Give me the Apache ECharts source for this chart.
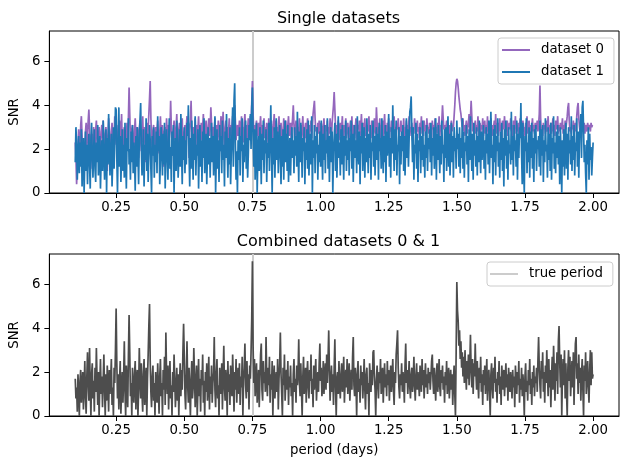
<!DOCTYPE html>
<html>
<head>
<meta charset="utf-8">
<script src="https://cdn.jsdelivr.net/npm/echarts@6/dist/echarts.min.js"></script>
<style>
  html, body { margin: 0; padding: 0; background: #fff; }
  #chart { width: 630px; height: 469px; }
</style>
</head>
<body>
<div id="chart"></div>
<script>
// period grid (days): 0.1000 .. 2.0000, step 0.0025 (one row = 0.1 day)
const periodStart = 0.1;
const periodStep = 0.0025;
const truePeriod = 0.75;
const xTicks = [0.25, 0.5, 0.75, 1.0, 1.25, 1.5, 1.75, 2.0];
const yTicks = [0, 2, 4, 6];

// SNR, dataset 0
const snr0 = [
  2.3,1.6,0.4,1.2,2.1,2.9,2.4,1.5,3.1,3.5, 2.6,1.8,2.2,0.9,1.7,2.8,3.2,2.0,2.7,3.3, 3.8,2.9,1.4,2.3,2.7,1.1,2.5,3.0,2.2,1.6, 2.9,3.3,2.6,1.9,2.4,3.0,2.1,1.3,2.8,3.1,
  2.5,3.3,2.0,1.5,2.7,3.0,2.3,1.0,2.6,3.4, 2.9,2.1,1.7,2.8,3.2,2.4,1.2,2.6,3.5,2.8, 2.2,3.1,2.5,1.4,2.9,3.3,2.0,2.7,3.6,2.3, 1.6,2.8,3.0,2.4,1.9,2.6,3.2,2.1,3.4,4.8,
  3.6,2.5,1.8,2.9,3.1,2.2,1.5,2.8,3.4,2.6, 2.0,3.0,2.7,1.6,2.9,3.3,2.4,1.9,2.8,3.5, 2.3,3.0,2.6,1.4,2.7,3.2,2.1,2.9,3.6,4.3, 5.1,3.4,2.5,2.0,2.8,3.1,1.7,2.6,3.0,2.2,
  2.9,3.3,2.4,1.8,2.7,3.5,2.6,2.0,3.1,2.5, 1.2,2.8,3.0,2.3,3.4,2.7,1.9,3.1,2.5,2.9, 4.2,3.0,2.4,1.7,2.8,3.3,2.6,2.1,3.0,3.6, 2.4,1.5,2.9,3.2,2.6,2.0,3.1,3.4,2.3,2.8,
  2.7,3.1,2.2,3.0,3.5,2.6,3.2,1.6,2.9,3.3, 4.2,2.8,2.4,3.0,1.9,2.7,3.4,2.5,3.1,2.0, 2.9,3.5,2.6,1.5,2.8,3.2,2.4,3.0,3.6,2.7, 2.1,2.9,3.3,2.5,1.8,3.0,3.4,2.6,2.9,3.9,
  3.2,2.6,3.0,1.8,2.9,3.4,2.5,3.1,2.2,2.8, 3.3,2.7,1.9,3.0,3.5,2.4,3.0,3.7,2.6,2.1, 2.9,3.3,2.5,3.0,2.0,2.8,3.4,2.6,3.1,2.3, 3.0,3.5,2.7,3.2,4.0,3.3,2.4,2.9,3.1,2.6,
  2.9,3.3,2.1,2.8,3.5,2.6,3.0,2.3,3.2,3.6, 2.7,3.1,2.4,2.9,3.4,2.5,3.0,3.5,3.2,4.1, 5.1,3.6,2.8,3.1,2.4,3.0,3.3,2.6,2.9,3.2, 2.2,3.0,3.5,2.7,2.4,3.1,2.8,3.4,2.5,3.0,
  2.6,3.2,2.9,2.3,3.4,2.7,3.0,2.5,3.3,1.9, 2.8,3.1,3.6,2.6,2.9,3.3,2.4,3.0,2.7,3.5, 2.3,2.9,3.2,2.6,1.8,2.8,3.4,2.5,3.0,3.3, 2.7,2.2,3.1,3.5,2.6,2.9,3.2,2.4,3.0,3.4,
  4.0,3.1,2.5,2.9,3.3,2.6,3.0,2.2,2.8,3.4, 2.7,3.1,2.4,3.0,3.5,2.6,2.0,2.9,3.2,2.5, 3.0,3.4,2.7,2.3,3.1,2.8,3.3,2.5,3.0,3.6, 3.9,4.2,3.4,2.8,3.0,2.5,3.2,2.7,3.3,2.9,
  2.6,3.2,2.9,2.4,3.0,3.4,2.7,2.2,3.1,2.8, 3.3,2.5,3.0,2.7,3.4,2.9,2.4,3.2,3.6,4.0, 4.6,3.8,3.0,2.6,3.1,2.8,3.3,2.4,2.9,3.2, 2.6,3.0,3.5,2.7,2.3,3.1,2.8,3.4,2.5,3.0,
  3.2,2.7,2.4,3.0,3.3,2.8,3.5,2.6,2.9,3.1, 2.5,3.0,3.4,2.7,2.2,3.1,2.9,3.3,2.6,3.0, 3.6,2.8,2.5,3.2,2.9,3.4,2.6,3.0,2.3,3.1, 2.8,3.5,2.7,3.0,2.5,3.3,2.9,3.1,2.6,3.4,
  3.0,2.7,3.9,3.2,2.6,3.0,2.8,3.4,2.5,3.1, 2.9,3.3,2.4,3.0,3.6,2.7,3.1,2.6,3.2,2.8, 3.4,2.5,3.0,2.8,3.3,2.6,3.1,2.9,3.5,2.4, 3.0,2.7,3.2,2.9,3.4,2.6,3.0,2.8,3.3,2.5,
  3.1,2.8,3.4,2.6,3.0,2.7,3.3,2.5,3.1,2.9, 3.5,2.6,3.0,2.8,3.2,2.4,3.0,2.7,3.4,2.9, 3.1,2.6,3.3,2.8,3.0,2.5,3.2,2.9,3.5,2.7, 3.0,2.6,3.3,2.8,3.1,2.5,3.4,2.9,3.0,2.7,
  3.2,2.8,3.0,2.5,3.3,2.9,3.1,2.6,3.4,2.8, 3.0,2.7,3.2,2.9,3.5,2.6,3.1,2.8,3.3,4.0, 3.4,2.9,3.1,2.6,3.0,3.3,2.7,3.2,2.9,3.1, 2.6,3.0,3.3,2.8,3.1,3.0,3.5,4.0,4.6,5.0,
  5.2,5.1,4.8,4.4,4.1,3.8,3.6,3.3,3.0,3.4, 2.8,3.1,2.6,3.0,3.3,2.7,3.0,3.2,3.6,2.9, 3.4,4.2,3.5,2.8,3.1,2.6,3.0,3.3,2.7,3.1, 2.8,3.5,2.6,3.0,3.2,2.7,3.1,2.9,3.4,2.6,
  3.0,3.3,2.7,3.1,2.8,3.5,2.6,3.0,3.2,2.7, 3.4,2.9,3.1,2.6,3.0,3.3,2.8,3.6,2.7,3.0, 3.2,2.6,3.0,3.4,2.8,3.1,2.5,3.3,2.9,3.0, 3.5,2.7,3.1,2.8,3.3,2.6,3.0,3.2,2.9,3.4,
  2.8,3.1,2.6,3.3,2.9,3.0,3.5,2.7,3.1,2.8, 3.2,2.6,3.0,3.4,2.9,3.1,2.7,3.3,2.8,3.0, 2.6,3.2,2.9,3.5,2.7,3.0,3.3,2.8,3.1,2.6, 3.0,3.4,2.8,3.1,2.7,3.2,2.9,3.0,3.3,2.8,
  3.1,3.6,4.9,3.4,2.8,3.0,2.6,3.2,2.9,3.1, 2.7,3.3,2.8,3.0,3.5,2.6,3.1,2.9,3.2,2.7, 3.0,3.4,2.8,3.1,2.6,3.3,2.9,3.0,3.5,2.7, 3.1,2.8,3.2,2.9,3.0,3.4,2.7,3.1,2.8,3.3,
  2.9,3.2,3.5,3.9,4.1,3.3,2.8,3.0,2.7,3.1, 2.9,3.3,2.6,3.0,3.2,2.8,3.5,3.9,4.1,3.4, 3.0,2.7,3.1,2.9,3.3,2.8,3.0,3.2,2.7,3.1, 3.0,2.8,3.2,2.9,3.1,3.0,2.8,3.2,3.0,3.1,
  3.1
];

// SNR, dataset 1
const snr1 = [
  1.4,3.0,2.2,0.6,1.8,2.6,0.9,2.3,1.2,2.9, 0.3,1.7,2.5,0.0,1.5,2.8,1.0,2.2,0.4,1.9, 2.7,1.3,0.2,2.4,3.2,1.6,0.7,2.0,2.9,1.1, 0.5,2.3,1.4,3.1,0.8,1.8,2.6,0.2,1.5,2.4,
  1.0,3.3,2.1,0.6,1.7,2.9,0.0,2.5,1.3,3.6, 2.2,0.8,1.9,2.7,0.3,1.5,3.0,1.1,2.4,3.9, 3.8,1.6,0.0,2.3,3.9,1.2,2.6,0.5,1.8,2.9, 1.0,2.2,0.7,3.2,1.5,0.2,2.5,1.9,3.4,1.3,
  2.0,0.6,2.8,1.4,3.1,0.9,2.3,1.7,0.1,2.6, 1.2,3.0,1.8,0.4,2.5,3.3,4.1,2.1,0.8,1.6, 2.9,0.3,2.2,1.5,3.4,1.0,2.7,0.5,1.9,3.1, 2.4,1.1,0.0,2.6,1.7,3.0,0.7,2.2,1.4,2.8,
  0.9,3.5,1.9,2.6,0.4,1.5,3.0,2.2,0.8,2.7, 1.3,3.2,0.2,2.0,2.9,1.6,0.6,2.4,3.4,1.1, 2.1,0.5,2.8,1.7,3.1,0.0,1.9,2.5,1.0,3.3, 2.3,0.7,1.6,2.9,1.2,3.6,2.0,0.4,2.6,1.5,
  3.0,0.9,2.4,1.3,3.2,2.6,4.0,1.8,0.3,2.5, 1.1,3.3,2.0,0.6,2.7,1.5,3.5,0.8,2.2,1.7, 2.9,0.2,1.9,3.1,1.2,2.4,0.5,2.8,1.6,3.4, 0.9,2.1,2.7,0.4,1.8,3.0,1.3,2.5,0.7,2.2,
  3.2,1.4,2.6,0.8,2.0,3.5,0.0,1.7,2.9,1.1, 2.4,0.5,3.1,1.9,2.6,0.9,3.3,1.5,2.2,0.3, 2.8,1.6,3.6,2.1,0.7,2.5,1.3,3.0,0.4,1.8, 2.7,3.9,1.2,4.2,5.0,2.3,0.6,1.9,0.0,2.4,
  1.5,3.0,0.8,2.6,1.9,3.4,0.5,2.2,1.4,2.9, 3.3,1.1,2.5,0.7,1.8,3.1,2.4,3.6,2.0,3.9, 4.8,2.7,1.2,2.9,0.6,2.3,3.2,0.0,1.7,2.6, 1.0,3.0,2.1,0.4,2.7,1.5,3.3,0.9,2.4,1.8,
  2.9,0.5,2.3,1.6,3.2,1.0,2.6,4.0,1.9,0.0, 2.5,1.3,3.0,0.7,2.2,3.4,1.5,2.8,0.9,2.0, 3.1,1.8,0.4,2.6,1.2,2.9,0.6,2.3,3.3,1.4, 2.7,1.0,3.1,0.5,1.9,2.5,0.8,2.2,3.0,1.6,
  2.4,0.9,3.0,1.7,2.6,1.2,3.7,2.0,0.5,2.8, 1.4,3.2,2.2,0.7,2.5,1.9,3.0,0.4,2.3,1.5, 2.9,1.1,3.3,0.8,2.1,2.7,1.3,3.5,0.0,2.4, 1.6,3.1,0.9,2.6,1.8,3.0,0.6,2.2,1.4,2.8,
  1.2,3.3,2.0,0.6,2.7,1.5,3.1,0.9,2.4,1.8, 3.4,1.1,2.6,0.5,2.2,3.0,1.4,2.8,0.0,1.9, 2.5,3.2,1.0,2.7,0.7,2.1,3.5,1.6,2.3,0.8, 2.9,1.3,3.1,2.0,0.6,2.6,1.7,3.3,1.0,2.4,
  1.5,3.0,0.8,2.5,1.9,3.3,1.1,2.7,0.5,2.2, 3.1,1.6,2.4,0.9,3.5,2.0,1.3,2.8,0.4,2.6, 1.8,3.2,1.0,2.3,3.0,0.7,2.5,1.4,3.4,2.1, 0.9,2.7,1.6,3.1,0.6,2.3,1.9,3.3,1.2,2.6,
  0.8,2.4,3.0,1.5,2.7,0.6,3.2,1.9,2.5,1.1, 3.4,2.0,0.9,2.6,1.4,3.1,0.5,2.8,1.7,2.3, 3.6,1.2,2.5,0.7,3.0,1.8,4.0,2.4,1.0,2.9, 1.5,3.3,0.8,2.2,1.9,3.0,0.4,2.6,1.3,2.8,
  1.9,3.1,1.0,2.6,0.8,2.3,3.4,1.6,2.9,1.2, 2.5,3.7,3.9,4.4,2.8,1.4,3.0,0.6,2.2,1.8, 3.2,1.1,2.7,0.5,2.4,1.9,3.0,0.9,2.6,1.5, 3.3,1.2,2.2,0.7,2.8,1.6,3.1,1.0,2.5,2.0,
  2.9,1.4,3.2,0.8,2.5,1.7,3.0,1.1,2.3,3.4, 0.6,2.7,1.5,3.1,2.0,0.9,2.6,1.3,3.3,1.8, 2.2,0.5,2.9,1.6,3.0,1.0,2.4,3.5,1.2,2.7, 0.8,2.1,3.2,1.4,2.6,0.7,3.0,1.9,2.5,1.1,
  3.3,2.0,2.7,1.2,3.0,0.9,2.5,1.6,3.4,1.1, 2.8,0.7,2.3,1.9,3.1,1.3,2.6,0.5,2.9,1.5, 3.5,2.2,1.0,2.7,0.6,3.2,1.7,2.4,1.2,3.0, 0.8,2.6,1.4,3.3,2.0,0.9,2.8,1.5,2.2,3.1,
  1.1,2.4,0.6,3.0,1.8,2.7,1.3,3.3,0.9,2.5, 3.7,1.6,2.2,0.4,2.9,1.4,3.1,0.8,2.6,1.9, 3.4,1.2,2.3,0.7,2.8,1.5,3.2,1.0,2.5,0.3, 2.9,1.7,3.3,1.1,2.4,0.6,3.0,1.8,2.2,1.3,
  3.7,1.5,2.6,0.8,3.1,1.9,2.4,1.2,3.3,0.6, 2.7,1.6,3.0,2.5,4.1,1.8,0.4,3.2,1.3,0.0, 2.6,1.9,3.4,0.9,2.3,1.4,3.0,0.7,2.8,1.6, 3.2,1.1,2.5,0.5,2.9,1.8,3.1,1.0,2.4,2.0,
  2.6,1.2,3.3,0.8,2.9,1.7,3.1,0.5,2.4,1.4, 3.4,1.9,2.2,0.7,3.0,1.5,2.7,1.0,3.2,0.6, 2.5,1.8,3.5,1.1,2.3,0.9,2.8,1.6,3.1,1.3, 2.6,0.4,3.0,1.7,0.0,2.4,1.2,2.9,0.8,2.2,
  3.2,1.1,2.7,0.6,3.0,1.8,2.4,1.3,3.5,1.0, 2.6,1.5,3.1,0.8,2.3,1.9,3.4,1.2,2.8,0.7, 2.5,3.0,3.6,1.6,3.9,4.2,2.9,1.4,2.2,0.9, 0.0,2.4,1.3,3.0,0.6,2.7,1.5,2.1,0.8,1.6,
  2.3
];

// SNR, datasets 0 & 1 combined
const snrBoth = [
  1.7,0.8,1.3,0.2,1.9,1.1,0.0,1.6,2.1,0.6, 1.4,2.0,0.3,1.2,2.5,0.9,0.1,1.8,2.9,1.5, 0.7,3.1,1.3,0.0,1.9,2.4,0.8,1.6,0.2,2.2, 1.1,3.1,1.7,0.5,2.0,0.0,1.4,2.6,1.0,1.8,
  0.4,1.6,2.8,1.2,0.0,1.9,0.7,2.3,1.4,0.2, 2.1,1.0,1.7,2.6,0.5,1.3,0.0,2.2,1.5,3.0, 4.9,2.4,0.8,1.9,0.3,1.6,2.5,0.1,1.2,2.0, 0.6,1.8,3.4,1.1,0.0,2.3,1.4,0.4,2.7,4.6,
  2.9,0.9,1.5,0.0,2.2,1.3,0.6,1.9,2.5,0.3, 1.6,2.1,0.0,1.2,3.1,1.7,0.8,2.4,1.0,0.2, 1.9,2.6,0.5,1.4,2.2,0.0,1.7,2.8,4.1,5.1, 2.5,1.1,0.4,1.8,2.3,0.7,1.5,0.0,2.0,1.2,
  0.6,2.4,1.3,0.1,1.8,2.6,0.9,1.5,0.0,2.1, 1.2,2.7,0.5,3.8,1.9,1.0,2.3,0.3,1.6,2.5, 0.8,1.4,0.0,2.0,1.1,2.8,1.7,0.4,1.3,2.2, 0.7,1.9,0.0,1.5,2.4,0.9,2.1,1.2,2.9,4.2,
  2.7,1.0,0.3,1.8,3.4,1.4,0.6,2.2,1.1,0.0, 1.7,2.5,0.8,1.3,3.1,1.9,0.4,1.5,2.3,0.0, 1.2,2.6,0.9,1.7,0.2,2.1,1.4,2.8,0.6,1.6, 0.0,2.0,1.1,2.4,0.7,1.5,2.7,0.3,1.8,1.0,
  2.3,0.6,1.5,2.0,3.6,1.2,0.4,1.9,2.6,0.8, 1.4,0.0,2.2,1.7,1.0,2.4,0.3,1.8,3.2,1.3, 0.7,2.1,1.5,0.0,2.5,1.1,1.9,0.5,2.3,1.4, 0.9,2.8,1.6,0.2,2.0,1.2,2.6,0.6,1.7,2.2,
  1.0,2.4,0.5,1.8,1.3,2.7,0.0,1.6,2.2,3.3, 1.4,0.8,2.5,1.1,1.9,0.3,2.3,1.7,2.9,4.4, 7.05,3.2,1.5,2.6,0.9,1.8,2.4,0.6,1.3,2.1, 0.4,1.7,2.8,3.3,1.2,0.7,2.5,1.5,2.0,1.1,
  3.6,1.8,0.9,2.2,1.4,2.7,0.6,1.9,1.2,2.5, 0.0,1.6,2.3,0.8,1.5,2.0,1.1,2.6,0.3,1.7, 2.4,3.8,1.9,1.0,0.0,2.2,1.4,2.8,0.7,1.6, 2.1,1.2,2.5,0.5,1.8,1.3,2.3,0.9,1.5,0.0,
  1.9,2.6,1.1,1.7,0.6,2.3,1.4,2.0,3.5,1.5, 0.9,2.4,1.2,0.0,1.8,2.7,1.0,1.5,2.2,0.6, 1.9,2.5,1.3,0.8,2.1,1.6,2.8,1.0,1.7,0.4, 2.3,1.2,1.9,2.6,0.7,1.5,2.0,1.1,2.4,3.3,
  1.6,2.2,0.9,1.4,2.5,1.0,1.8,2.4,1.2,2.8, 1.5,2.6,3.9,2.1,0.7,1.6,2.3,1.1,1.9,0.5, 2.2,3.5,1.3,0.0,1.7,2.0,1.0,2.5,1.4,0.8, 1.9,2.4,1.1,1.6,2.7,0.6,1.5,2.1,1.3,2.6,
  1.0,1.8,2.4,0.7,1.5,2.1,1.2,2.7,3.6,1.4, 0.9,2.2,1.6,0.0,1.9,2.5,1.1,1.7,0.6,2.3, 1.4,2.0,0.8,1.6,2.6,1.2,0.3,1.9,2.2,1.0, 1.5,0.0,2.4,1.7,1.1,2.1,1.4,2.9,3.0,1.8,
  1.2,0.0,1.7,2.3,1.4,0.8,2.0,1.5,2.6,1.0, 1.8,2.2,0.6,1.6,2.4,1.3,1.9,0.9,2.5,1.4, 2.1,0.7,1.7,2.3,1.1,1.8,2.6,1.2,0.5,2.0, 1.5,2.8,3.3,3.9,2.2,1.3,0.8,1.9,1.4,2.4,
  1.1,2.0,1.6,0.6,2.3,3.3,1.5,2.1,1.0,1.7, 2.5,1.3,0.8,1.9,2.2,1.1,1.6,2.7,1.4,0.7, 1.8,2.4,1.2,2.0,1.5,0.9,2.3,1.7,1.1,2.6, 1.4,2.1,0.8,1.7,2.4,1.3,1.9,1.0,2.2,1.5,
  2.0,1.2,1.8,2.5,2.8,1.6,1.0,2.2,1.4,0.7, 1.9,2.4,1.1,1.7,2.6,1.3,0.9,2.1,1.5,2.3, 1.2,1.8,0.6,2.0,1.4,2.5,1.0,1.7,2.2,0.8, 1.5,2.1,1.2,1.9,0.5,1.6,2.3,1.0,0.0,2.9,
  6.1,4.8,4.3,3.2,3.9,2.6,3.4,2.2,2.9,1.8, 2.7,1.5,3.0,2.0,1.2,2.5,1.7,2.8,1.4,2.3, 3.7,2.1,1.3,2.6,1.0,2.4,1.8,3.3,2.0,1.2, 2.5,1.6,0.8,2.2,1.5,2.7,1.1,1.9,0.5,2.1,
  1.4,2.3,1.0,1.8,2.6,0.7,1.6,2.1,1.2,0.0, 1.9,2.4,1.3,0.8,2.2,1.5,2.7,1.1,1.7,0.6, 2.0,1.4,2.5,1.0,1.8,0.5,2.3,1.6,1.2,2.1, 0.9,1.7,2.4,1.3,1.9,0.7,2.2,1.5,1.1,2.0,
  1.5,0.8,2.1,1.3,1.8,0.4,2.3,1.6,1.0,2.0, 1.4,2.5,0.6,1.7,1.2,2.2,0.9,1.9,1.3,0.0, 1.8,2.4,1.1,1.6,0.7,2.1,1.4,2.6,1.0,1.7, 0.5,2.0,1.3,2.3,0.9,1.8,1.5,2.2,1.1,2.5,
  3.6,2.2,1.4,0.8,2.5,1.7,2.9,1.1,2.0,0.6, 2.3,1.5,3.0,1.9,0.9,2.6,1.3,2.1,0.4,1.8, 2.7,1.2,3.2,2.0,0.7,2.4,1.6,2.9,1.0,3.4, 4.1,2.5,1.3,2.8,0.0,1.9,2.6,1.4,3.0,0.8,
  2.4,1.1,0.0,2.2,3.0,1.6,2.7,0.9,1.8,2.5, 1.3,2.9,0.5,2.1,3.3,3.6,1.7,2.4,1.0,2.8, 1.5,2.2,0.7,1.9,2.6,1.2,0.0,2.3,1.6,2.9, 1.0,1.8,2.5,1.3,0.6,2.1,3.0,1.4,2.9,1.7,
  1.9
];

const periods = snr0.map((_, i) => +(periodStart + i * periodStep).toFixed(4));
const pairs = (vals) => vals.map((v, i) => [periods[i], v]);

const font = "DejaVu Sans";
const gridLeft = 48, gridW = 571, gridH = 162;
const tops = [31, 254];

const chart = echarts.init(document.getElementById("chart"));

const xAxisFor = (idx, withName) => ({
  type: "value",
  gridIndex: idx,
  min: 0.005,
  max: 2.095,
  name: withName ? "period (days)" : "",
  nameLocation: "middle",
  nameGap: 28,
  nameTextStyle: { color: "#000", fontSize: 13.3, fontFamily: font },
  axisLine: { show: true, lineStyle: { color: "#000", width: 1 } },
  axisTick: { show: true, length: 5, lineStyle: { color: "#000" }, customValues: xTicks },
  axisLabel: {
    color: "#000", fontSize: 13.3, fontFamily: font, margin: 8,
    customValues: xTicks, formatter: (v) => v.toFixed(2),
  },
  splitLine: { show: false },
});

const yAxisFor = (idx) => ({
  type: "value",
  gridIndex: idx,
  min: 0,
  max: 7.38,
  name: "SNR",
  nameLocation: "middle",
  nameGap: 25,
  nameRotate: 90,
  nameTextStyle: { color: "#000", fontSize: 13.3, fontFamily: font },
  axisLine: { show: true, lineStyle: { color: "#000", width: 1 } },
  axisTick: { show: true, length: 5, lineStyle: { color: "#000" }, customValues: yTicks },
  axisLabel: { color: "#000", fontSize: 13.3, fontFamily: font, margin: 9, customValues: yTicks },
  splitLine: { show: false },
});

// vertical marker at the true period, kept underneath the data lines
const vline = {
  symbol: "none",
  silent: true,
  animation: false,
  z: 1,
  label: { show: false },
  lineStyle: { color: "#cccccc", width: 2, type: "solid" },
  data: [{ xAxis: truePeriod }],
};

const legendBase = {
  orient: "vertical",
  selectedMode: false,
  icon: "rect",
  itemWidth: 28,
  itemHeight: 2,
  itemGap: 8,
  backgroundColor: "rgba(255,255,255,0.8)",
  borderColor: "#cccccc",
  borderWidth: 1,
  borderRadius: 3,
  textStyle: { color: "#000", fontSize: 13.3, lineHeight: 14, fontFamily: font, padding: [0, 0, 0, 6] },
};

chart.setOption({
  animation: false,
  title: [
    { text: "Single datasets", left: gridLeft + gridW / 2, top: 6, textAlign: "center",
      textStyle: { fontSize: 16, fontWeight: "normal", color: "#000", fontFamily: font } },
    { text: "Combined datasets 0 & 1", left: gridLeft + gridW / 2, top: 229, textAlign: "center",
      textStyle: { fontSize: 16, fontWeight: "normal", color: "#000", fontFamily: font } },
  ],
  legend: [
    Object.assign({}, legendBase, {
      data: ["dataset 0", "dataset 1"],
      left: 498, top: 38, padding: [5, 10, 5, 4],
    }),
    Object.assign({}, legendBase, {
      data: ["true period"],
      left: 487, top: 262, padding: [5, 10, 5, 3],
    }),
  ],
  grid: tops.map((t) => ({
    left: gridLeft, top: t, width: gridW, height: gridH,
    show: true, borderColor: "#000", borderWidth: 1, backgroundColor: "transparent",
  })),
  xAxis: [xAxisFor(0, false), xAxisFor(1, true)],
  yAxis: [yAxisFor(0), yAxisFor(1)],
  series: [
    { type: "line", name: "_vline0", xAxisIndex: 0, yAxisIndex: 0, data: [], z: 1, markLine: vline },
    { type: "line", name: "dataset 0", xAxisIndex: 0, yAxisIndex: 0, data: pairs(snr0),
      symbol: "none", color: "#9467bd", lineStyle: { width: 1.7, color: "#9467bd" }, z: 2 },
    { type: "line", name: "dataset 1", xAxisIndex: 0, yAxisIndex: 0, data: pairs(snr1),
      symbol: "none", color: "#1f77b4", lineStyle: { width: 1.7, color: "#1f77b4" }, z: 3 },
    { type: "line", name: "true period", xAxisIndex: 1, yAxisIndex: 1, data: [],
      symbol: "none", color: "#cccccc", lineStyle: { width: 2, color: "#cccccc" }, z: 1, markLine: vline },
    { type: "line", name: "combined", xAxisIndex: 1, yAxisIndex: 1, data: pairs(snrBoth),
      symbol: "none", color: "#4d4d4d", lineStyle: { width: 1.7, color: "#4d4d4d" }, z: 2 },
  ],
});
</script>
</body>
</html>
